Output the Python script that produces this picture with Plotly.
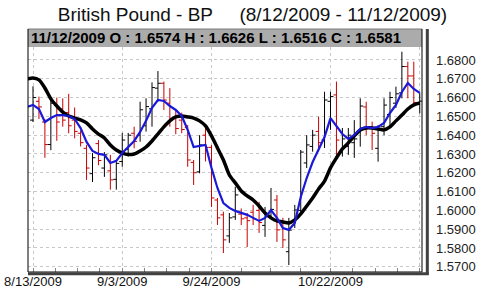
import plotly.graph_objects as go
import pandas as pd

# ---- data -------------------------------------------------------------
# trading days 8/12/2009 .. 11/12/2009 (8/12 only carries the averages)
dates = [f"{d.month}/{d.day}/{d.year}" for d in pd.bdate_range("2009-08-12", "2009-11-12")]
bar_dates = dates[1:]

opens = [1.6480, 1.6580, 1.6470, 1.6350, 1.6560, 1.6540, 1.6520, 1.6480, 1.6410, 1.6330,
         1.6195, 1.6355, 1.6225, 1.6210, 1.6165, 1.6260, 1.6325, 1.6410, 1.6400, 1.6450,
         1.6540, 1.6650, 1.6676, 1.6570, 1.6495, 1.6480, 1.6440, 1.6255, 1.6205, 1.6400,
         1.6335, 1.6055, 1.5976, 1.5864, 1.5965, 1.5980, 1.5960, 1.5990, 1.6000, 1.5920,
         1.5970, 1.6055, 1.5938, 1.5780, 1.5922, 1.6000, 1.6252, 1.6340, 1.6420, 1.6374,
         1.6580, 1.6614, 1.6310, 1.6340, 1.6360, 1.6420, 1.6550, 1.6445, 1.6330, 1.6445,
         1.6510, 1.6570, 1.6625, 1.6765, 1.6715, 1.6574]
highs = [1.6660, 1.6605, 1.6485, 1.6590, 1.6600, 1.6596, 1.6620, 1.6547, 1.6425, 1.6348,
         1.6305, 1.6374, 1.6310, 1.6295, 1.6268, 1.6412, 1.6412, 1.6445, 1.6578, 1.6596,
         1.6681, 1.6741, 1.6685, 1.6650, 1.6530, 1.6520, 1.6454, 1.6268, 1.6400, 1.6438,
         1.6348, 1.6066, 1.5993, 1.5986, 1.6126, 1.6010, 1.5986, 1.6029, 1.6045, 1.6018,
         1.6119, 1.6082, 1.5960, 1.5960, 1.6029, 1.6321, 1.6400, 1.6428, 1.6498, 1.6631,
         1.6631, 1.6685, 1.6438, 1.6438, 1.6480, 1.6596, 1.6578, 1.6472, 1.6454, 1.6596,
         1.6631, 1.6658, 1.6844, 1.6791, 1.6791, 1.6626]
lows = [1.6470, 1.6486, 1.6280, 1.6320, 1.6370, 1.6445, 1.6410, 1.6383, 1.6340, 1.6162,
        1.6151, 1.6240, 1.6178, 1.6110, 1.6110, 1.6232, 1.6286, 1.6330, 1.6365, 1.6419,
        1.6445, 1.6578, 1.6534, 1.6445, 1.6405, 1.6410, 1.6232, 1.6135, 1.6197, 1.6260,
        1.6018, 1.5922, 1.5773, 1.5827, 1.5949, 1.5922, 1.5805, 1.5922, 1.5880, 1.5859,
        1.5960, 1.5832, 1.5800, 1.5709, 1.5906, 1.5990, 1.6225, 1.6312, 1.6312, 1.6332,
        1.6428, 1.6295, 1.6286, 1.6295, 1.6279, 1.6339, 1.6400, 1.6321, 1.6259, 1.6400,
        1.6438, 1.6545, 1.6596, 1.6596, 1.6560, 1.6516]
closes = [1.6600, 1.6550, 1.6350, 1.6570, 1.6470, 1.6480, 1.6450, 1.6420, 1.6360, 1.6225,
          1.6280, 1.6265, 1.6295, 1.6162, 1.6250, 1.6374, 1.6400, 1.6367, 1.6535, 1.6552,
          1.6653, 1.6676, 1.6587, 1.6490, 1.6435, 1.6430, 1.6268, 1.6200, 1.6348, 1.6335,
          1.6066, 1.5960, 1.5843, 1.5960, 1.6082, 1.5955, 1.5945, 1.5955, 1.5935, 1.5970,
          1.6005, 1.5896, 1.5843, 1.5895, 1.6002, 1.6310, 1.6348, 1.6400, 1.6360, 1.6587,
          1.6605, 1.6374, 1.6380, 1.6400, 1.6380, 1.6555, 1.6438, 1.6410, 1.6430, 1.6560,
          1.6600, 1.6620, 1.6765, 1.6715, 1.6574, 1.6581]

# moving averages (8/12 .. 11/12)
ma_fast = [1.6550, 1.6561, 1.6539, 1.6470, 1.6491, 1.6507, 1.6507, 1.6502, 1.6486, 1.6438,
           1.6364, 1.6316, 1.6300, 1.6295, 1.6252, 1.6263, 1.6305, 1.6337, 1.6369, 1.6417,
           1.6476, 1.6545, 1.6587, 1.6582, 1.6555, 1.6534, 1.6502, 1.6428, 1.6337, 1.6343,
           1.6348, 1.6226, 1.6119, 1.6039, 1.6013, 1.5997, 1.5986, 1.5976, 1.5960, 1.5944,
           1.5960, 1.6002, 1.5960, 1.5906, 1.5896, 1.5933, 1.6071, 1.6172, 1.6257, 1.6321,
           1.6390, 1.6491, 1.6449, 1.6406, 1.6380, 1.6401, 1.6433, 1.6444, 1.6438, 1.6444,
           1.6465, 1.6518, 1.6561, 1.6630, 1.6678, 1.6646, 1.6625]
ma_slow = [1.6699, 1.6704, 1.6694, 1.6651, 1.6593, 1.6555, 1.6523, 1.6502, 1.6491, 1.6481,
           1.6465, 1.6433, 1.6406, 1.6385, 1.6348, 1.6321, 1.6305, 1.6297, 1.6300, 1.6316,
           1.6337, 1.6369, 1.6406, 1.6444, 1.6476, 1.6497, 1.6502, 1.6497, 1.6491, 1.6476,
           1.6449, 1.6396, 1.6332, 1.6268, 1.6188, 1.6146, 1.6103, 1.6077, 1.6055, 1.6023,
           1.5986, 1.5960, 1.5944, 1.5938, 1.5933, 1.5949, 1.5981, 1.6023, 1.6066, 1.6114,
           1.6156, 1.6226, 1.6279, 1.6327, 1.6359, 1.6396, 1.6428, 1.6438, 1.6438, 1.6433,
           1.6428, 1.6444, 1.6476, 1.6507, 1.6539, 1.6561, 1.6571]

label_dates = ["8/13/2009", "9/3/2009", "9/24/2009", "10/22/2009", "11/12/2009"]
shown_labels = ["8/13/2009", "9/3/2009", "9/24/2009", "10/22/2009", ""]

title_text = "British Pound - BP\u00a0\u00a0\u00a0\u00a0\u00a0(8/12/2009 - 11/12/2009)"
last = len(bar_dates) - 1
header_text = (f"{bar_dates[last]} O : {opens[last]:.4f} H : {highs[last]:.4f} "
               f"L : {lows[last]:.4f} C : {closes[last]:.4f}")

# ---- positions (trading-day index) -------------------------------------
x_all = list(range(-1, len(dates) - 1))
x_bar = list(range(len(bar_dates)))
major_idx = [bar_dates.index(d) for d in label_dates]
minor_idx = []
for a, b in zip(major_idx[:-1], major_idx[1:]):
    minor_idx += [a + (b - a) * k / 4 for k in range(1, 4)]

FONT = "Liberation Sans, Arial, sans-serif"

fig = go.Figure()
fig.add_trace(go.Ohlc(
    x=x_bar, open=opens, high=highs, low=lows, close=closes,
    increasing=dict(line=dict(color="#000000", width=1)),
    decreasing=dict(line=dict(color="#c80000", width=1)),
    tickwidth=0.5, hoverinfo="skip", showlegend=False))
fig.add_trace(go.Scatter(x=x_all, y=ma_slow, mode="lines",
                         line=dict(color="#000000", width=3.5, shape="spline", smoothing=0.6),
                         hoverinfo="skip", showlegend=False))
fig.add_trace(go.Scatter(x=x_all, y=ma_fast, mode="lines",
                         line=dict(color="#1a1ad6", width=2.2),
                         hoverinfo="skip", showlegend=False))

fig.update_layout(
    width=500, height=291,
    margin=dict(l=28, r=78, t=47, b=19, pad=0, autoexpand=False),
    paper_bgcolor="white", plot_bgcolor="white",
    showlegend=False,
    title=dict(text=title_text, x=0.505, xanchor="center", y=0.952, yanchor="middle",
               font=dict(family=FONT, size=19, color="#111111"), automargin=False),
    xaxis=dict(
        range=[-0.84, 65.38], tickmode="array", tickvals=major_idx, ticktext=shown_labels,
        ticks="inside", ticklen=4, tickcolor="#888888", automargin=False,
        showgrid=True, gridcolor="#c8c8c8", griddash="dot", gridwidth=1,
        zeroline=False, showline=False,
        tickfont=dict(family=FONT, size=13, color="#111111"),
        rangeslider=dict(visible=False),
        minor=dict(tickvals=minor_idx, ticks="inside", ticklen=4, tickcolor="#888888",
                   showgrid=False),
    ),
    yaxis=dict(
        side="right", range=[1.5672, 1.6869], tick0=1.57, dtick=0.01, tickformat=".4f",
        showgrid=True, gridcolor="#c8c8c8", griddash="dot", gridwidth=1, automargin=False,
        zeroline=False, showline=False, ticks="", ticklabelstandoff=13,
        tickfont=dict(family=FONT, size=13, color="#222222"),
    ),
)

# header band and frame
fig.add_shape(type="rect", xref="paper", yref="paper", x0=0, x1=1, y0=1, y1=1.08,
              fillcolor="#ababab", line=dict(width=0), layer="above")
fig.add_shape(type="line", xref="paper", yref="paper", x0=0, x1=1, y0=1.08, y1=1.08,
              line=dict(color="#7a7a7a", width=1))
fig.add_shape(type="line", xref="paper", yref="paper", x0=0, x1=0, y0=0, y1=1.08,
              line=dict(color="#000000", width=1))
fig.add_shape(type="line", xref="paper", yref="paper", x0=1, x1=1, y0=0, y1=1.08,
              line=dict(color="#000000", width=1))
fig.add_shape(type="line", xref="paper", yref="paper", x0=0, x1=1.0, y0=0, y1=0,
              line=dict(color="#000000", width=1))
fig.add_shape(type="line", xref="paper", yref="paper", x0=1.0135, x1=1.0135, y0=-0.012, y1=1.08,
              line=dict(color="#404040", width=3))
fig.add_shape(type="line", xref="paper", yref="paper", x0=0, x1=1.017, y0=-0.008, y1=-0.008,
              line=dict(color="#404040", width=3))

fig.add_annotation(text=header_text, xref="paper", yref="paper", x=0.002, y=1.04,
                   xanchor="left", yanchor="middle", showarrow=False,
                   font=dict(family=FONT, size=15, color="#000000", weight="bold"))

fig.write_html("out.html")
